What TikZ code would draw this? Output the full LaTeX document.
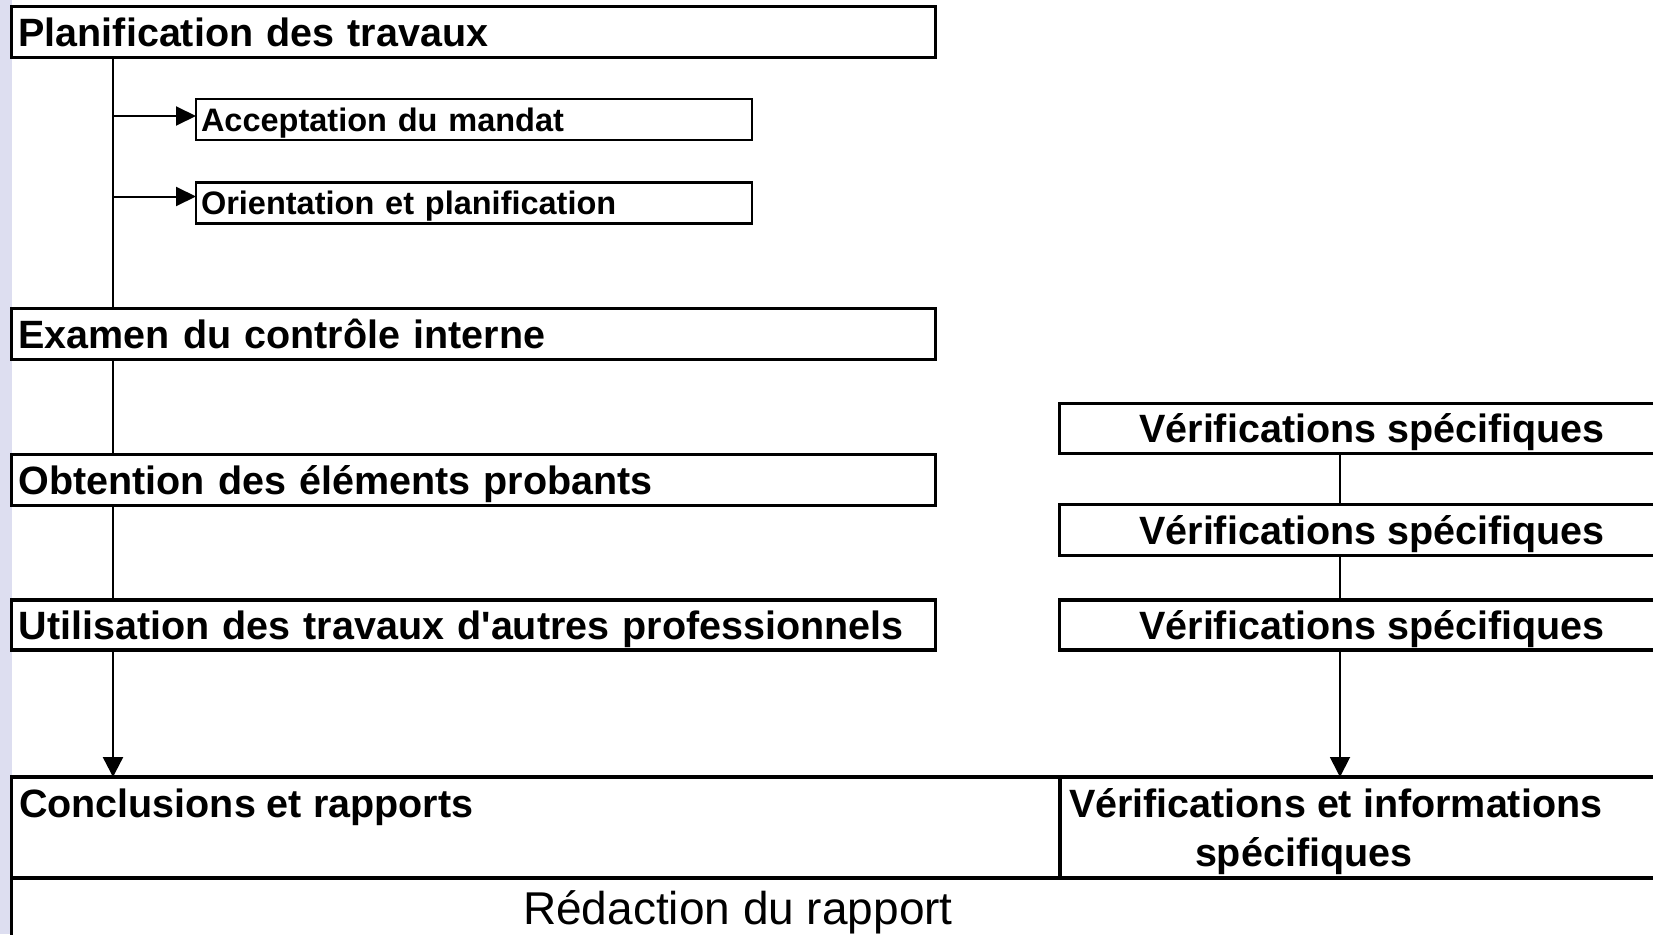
\documentclass[tikz,border=0pt]{standalone}
\usepackage{fontspec}
\setmainfont{Liberation Sans}
\usetikzlibrary{arrows.meta}
\definecolor{sidebar}{RGB}{221,222,240}
\begin{document}
\begin{tikzpicture}[x=1pt,y=-1pt,
  bigfont/.style={font=\fontsize{39.5}{47}\selectfont\bfseries},
  smallfont/.style={font=\fontsize{32.5}{39}\selectfont\bfseries},
  stagebox/.style={draw, fill=white, line width=3.5pt, anchor=north west,
    inner xsep=7pt, inner ysep=0pt, outer sep=0pt, bigfont,
    text height=35.5pt, text depth=7.2pt},
  leftbox/.style={stagebox, align=left},
  substep/.style={draw, fill=white, line width=2.2pt, anchor=north west,
    inner xsep=5pt, inner ysep=0pt, outer sep=0pt, smallfont, align=left,
    minimum height=41pt, text width=546pt,
    text height=29.2pt, text depth=5.9pt},
  framebox/.style={draw, fill=white, line width=3.5pt, anchor=north west,
    inner sep=0pt, outer sep=0pt},
  plaintext/.style={inner sep=0pt, outer sep=0pt},
  spineline/.style={line width=2.4pt},
  branch/.style={line width=2pt, -{Triangle[length=20pt,width=19pt]}},
  rightline/.style={line width=1.8pt},
]
\clip (0,0) rectangle (1653,934);
\fill[sidebar] (0,0) rectangle (12,934);

% left column: main stages
\node[leftbox, minimum width=924pt, minimum height=51pt, text width=910pt]
  (plan) at (11.5,6.5) {Planification des travaux};
\node[substep] (accept) at (196,99) {Acceptation du mandat};
\node[substep] (orient) at (196,182.5) {Orientation et planification};
\node[leftbox, minimum width=924pt, minimum height=51pt, text width=910pt]
  (exam) at (11.5,308.5) {Examen du contrôle interne};
\node[leftbox, minimum width=924pt, minimum height=51pt, text width=910pt]
  (obt) at (11.5,454.5) {Obtention des éléments probants};
\node[leftbox, minimum width=924pt, minimum height=50pt, text width=910pt]
  (util) at (11.5,600) {Utilisation des travaux d\textquotesingle autres professionnels};

% right column: specific checks
\node[stagebox, minimum width=625pt, minimum height=50pt]
  (v1) at (1059.5,403.5) {Vérifications spécifiques};
\node[stagebox, minimum width=625pt, minimum height=51pt]
  (v2) at (1059.5,504.5) {Vérifications spécifiques};
\node[stagebox, minimum width=625pt, minimum height=50pt]
  (v3) at (1059.5,600) {Vérifications spécifiques};

% bottom band
\node[framebox, minimum width=1690pt, minimum height=120pt] (redac) at (11.5,878) {};
\node[framebox, minimum width=1048.5pt, minimum height=101pt] (concl) at (11.5,777) {};
\node[framebox, minimum width=640pt, minimum height=101pt] (verif) at (1060,777) {};
\node[plaintext, anchor=base west, bigfont] (concltxt) at (19,817) {Conclusions et rapports};
\node[plaintext, anchor=base west, bigfont] (veriftxtA) at (1069,817) {Vérifications et informations};
\node[plaintext, anchor=base west, bigfont] (veriftxtB) at (1195,866) {spécifiques};
\node[plaintext, anchor=base, font=\fontsize{46}{55}\selectfont] (redactxt) at (738,924) {Rédaction du rapport};

% connectors
\coordinate (spine) at (113,0);
\coordinate (rspine) at (1340,0);
\draw[spineline] (plan.south -| spine) -- (exam.north -| spine);
\draw[branch] ([yshift=3.5pt]accept.west -| spine) -- ([yshift=3.5pt]accept.west);
\draw[branch] ([yshift=6.5pt]orient.west -| spine) -- ([yshift=6.5pt]orient.west);
\draw[spineline] (exam.south -| spine) -- (obt.north -| spine);
\draw[spineline] (obt.south -| spine) -- (util.north -| spine);
\draw[spineline, -{Triangle[length=20pt,width=20pt]}] (util.south -| spine) -- (concl.north -| spine);

\draw[rightline] (v1.south -| rspine) -- (v2.north -| rspine);
\draw[rightline] (v2.south -| rspine) -- (v3.north -| rspine);
\draw[rightline, -{Triangle[length=20pt,width=20pt]}] (v3.south -| rspine) -- (verif.north -| rspine);
\end{tikzpicture}
\end{document}
